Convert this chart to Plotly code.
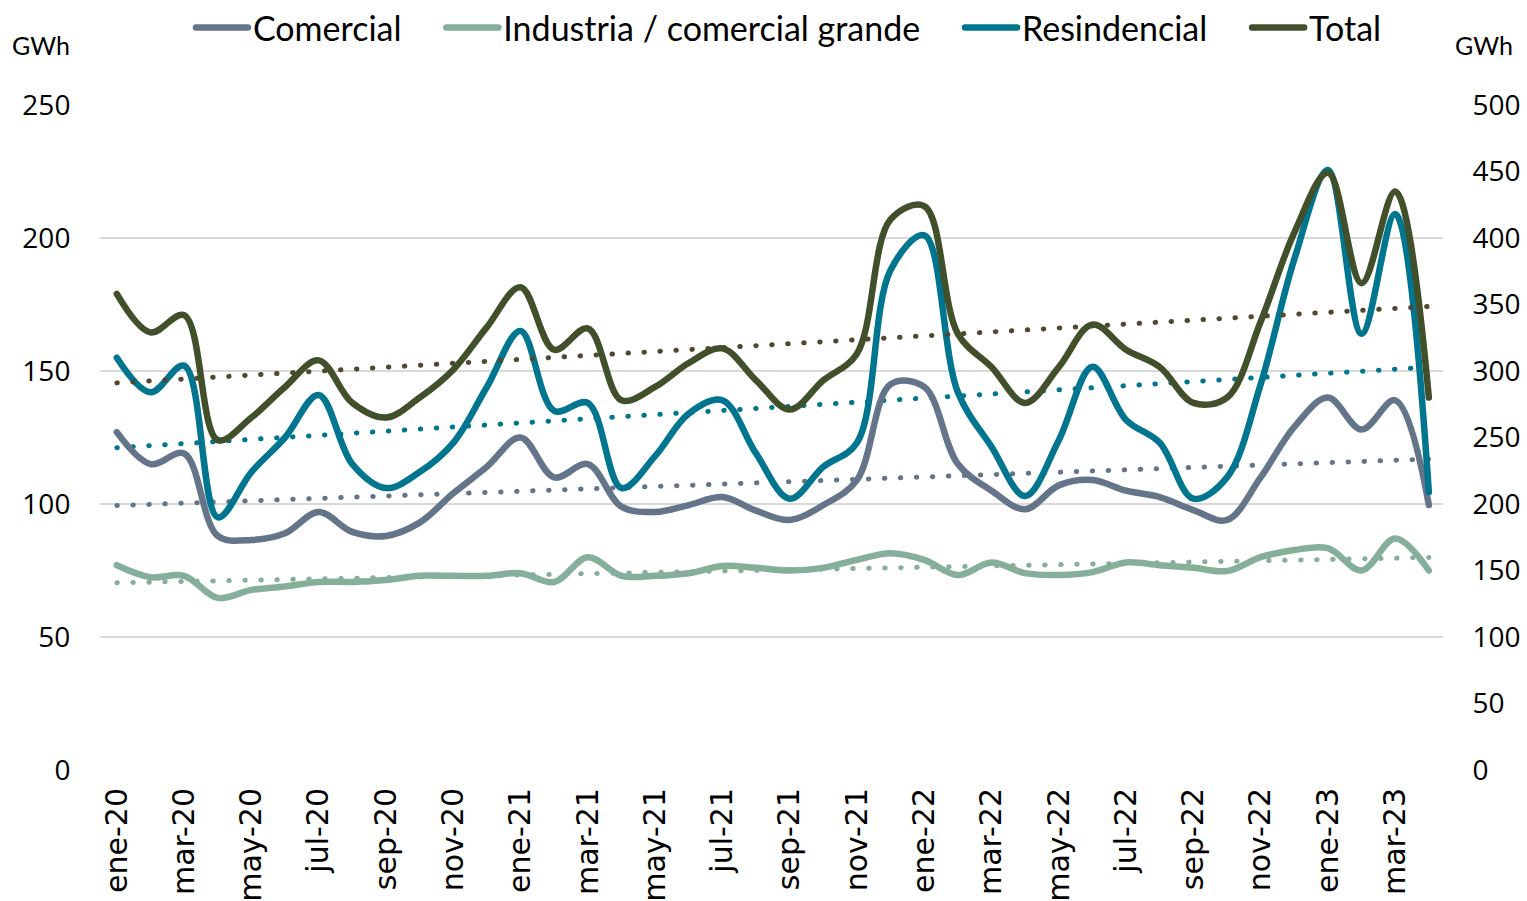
import numpy as np
import plotly.graph_objects as go

months = ["ene-20","feb-20","mar-20","abr-20","may-20","jun-20","jul-20","ago-20","sep-20","oct-20","nov-20","dic-20",
          "ene-21","feb-21","mar-21","abr-21","may-21","jun-21","jul-21","ago-21","sep-21","oct-21","nov-21","dic-21",
          "ene-22","feb-22","mar-22","abr-22","may-22","jun-22","jul-22","ago-22","sep-22","oct-22","nov-22","dic-22",
          "ene-23","feb-23","mar-23","abr-23"]

comercial = [127, 115, 119, 88, 86.5, 89, 97, 89.5, 88, 93, 104, 114,
             125, 110, 115, 99, 97, 99.6, 102.6, 97.5, 94, 99.6, 109, 145,
             144, 115, 105, 98, 107, 109, 105, 102.6, 97.7, 94, 110, 129,
             140, 128, 139, 99.6]
industria = [77, 72.5, 73, 64.7, 67.7, 69, 70.7, 70.7, 71.4, 73, 73, 73,
             74, 70.7, 80, 73, 73, 74, 76.7, 76, 75, 76, 79, 81.5,
             79, 73.3, 78, 74, 73.3, 74.4, 78, 77, 76, 74.8, 80, 82.7,
             83.4, 75, 87, 75]
residencial = [155, 142, 152, 95, 112, 125, 141, 115, 106, 112, 123, 144,
               165, 135, 138, 106, 118, 134, 139, 119, 102, 114, 123, 188,
               201, 142, 121.5, 103, 124, 151.6, 131.6, 123, 102, 110, 145, 192,
               225.6, 164, 209, 104.5]
total = [358, 329, 342, 248, 265, 288, 308, 276, 265, 280, 301, 333,
         363, 316, 332, 278, 288, 306, 317, 293, 271, 293, 313, 414,
         424, 328, 303, 276, 303, 335, 316, 303, 276, 280, 337, 404,
         449, 366, 435, 280]

tick_idx = list(range(0, 40, 2))
tick_labels = [months[i] for i in tick_idx]

series_names = ["Comercial", "Industria / comercial grande", "Resindencial", "Total"]
series_vals = [comercial, industria, residencial, total]
series_colors = ["#657589", "#86AF9B", "#00758F", "#414F2A"]
trend_colors = ["#657589", "#86AF9B", "#00758F", "#50492D"]
series_axes = ["y", "y", "y", "y2"]

PAD = "\u00a0" * 4
x = np.arange(len(months))
fig = go.Figure()

# trend lines (linear fit of each series)
for vals, tcol, ax in zip(series_vals, trend_colors, series_axes):
    coef = np.polyfit(x, np.array(vals, dtype=float), 1)
    trend = np.polyval(coef, x)
    fig.add_trace(go.Scatter(x=x, y=trend, mode="lines", yaxis=ax, showlegend=False,
                             hoverinfo="skip",
                             line=dict(color=tcol, width=5, dash="0.5px,15.5px")))

for i, (name, vals, col, ax) in enumerate(zip(series_names, series_vals, series_colors, series_axes)):
    label = name + (PAD if i < 3 else "")
    fig.add_trace(go.Scatter(x=x, y=vals, mode="lines", name=label, yaxis=ax,
                             line=dict(color=col, width=6.5, shape="spline", smoothing=1.0)))

fig.update_layout(
    width=1527, height=901,
    margin=dict(l=100, r=84, t=105, b=131, autoexpand=False),
    paper_bgcolor="white", plot_bgcolor="white",
    showlegend=True,
    legend=dict(orientation="h", x=0.513, xanchor="center", xref="paper",
                y=1 - 28 / 901, yanchor="middle", yref="container",
                font=dict(family="Lato", size=34, color="#000000"),
                itemwidth=52, bgcolor="rgba(0,0,0,0)"),
    xaxis=dict(range=[-0.5, 39.42], tickmode="array", tickvals=tick_idx, ticktext=tick_labels,
               tickangle=-90, showgrid=False, zeroline=False, showline=False, automargin=False,
               ticks="outside", ticklen=5, tickcolor="rgba(0,0,0,0)",
               tickfont=dict(family="DejaVu Sans", size=30, color="#000000")),
    yaxis=dict(range=[0, 250], dtick=50, showgrid=True, gridcolor="#D9D9D9", gridwidth=2,
               zeroline=False, showline=False, automargin=False,
               ticks="outside", ticklen=23, tickcolor="rgba(0,0,0,0)",
               tickfont=dict(family="Open Sans", size=28, color="#000000")),
    yaxis2=dict(range=[0, 500], dtick=50, overlaying="y", side="right", showgrid=False,
                zeroline=False, showline=False, automargin=False,
                ticks="outside", ticklen=23, tickcolor="rgba(0,0,0,0)",
                tickfont=dict(family="Open Sans", size=28, color="#000000")),
    annotations=[
        dict(text="GWh", xref="paper", yref="paper", x=-0.067, y=1.09, xanchor="left", yanchor="middle",
             showarrow=False, font=dict(family="Lato", size=25, color="#000000")),
        dict(text="GWh", xref="paper", yref="paper", x=1.0075, y=1.09, xanchor="left", yanchor="middle",
             showarrow=False, font=dict(family="Lato", size=25, color="#000000")),
    ],
)

post = """
document.body.style.margin='0';
document.body.style.overflow='hidden';
var s=document.createElement('style');
s.innerHTML='.js-line{stroke-linecap:round;stroke-linejoin:round;}';
document.head.appendChild(s);
"""
fig.write_html("out.html", post_script=post, config={"displayModeBar": False})
